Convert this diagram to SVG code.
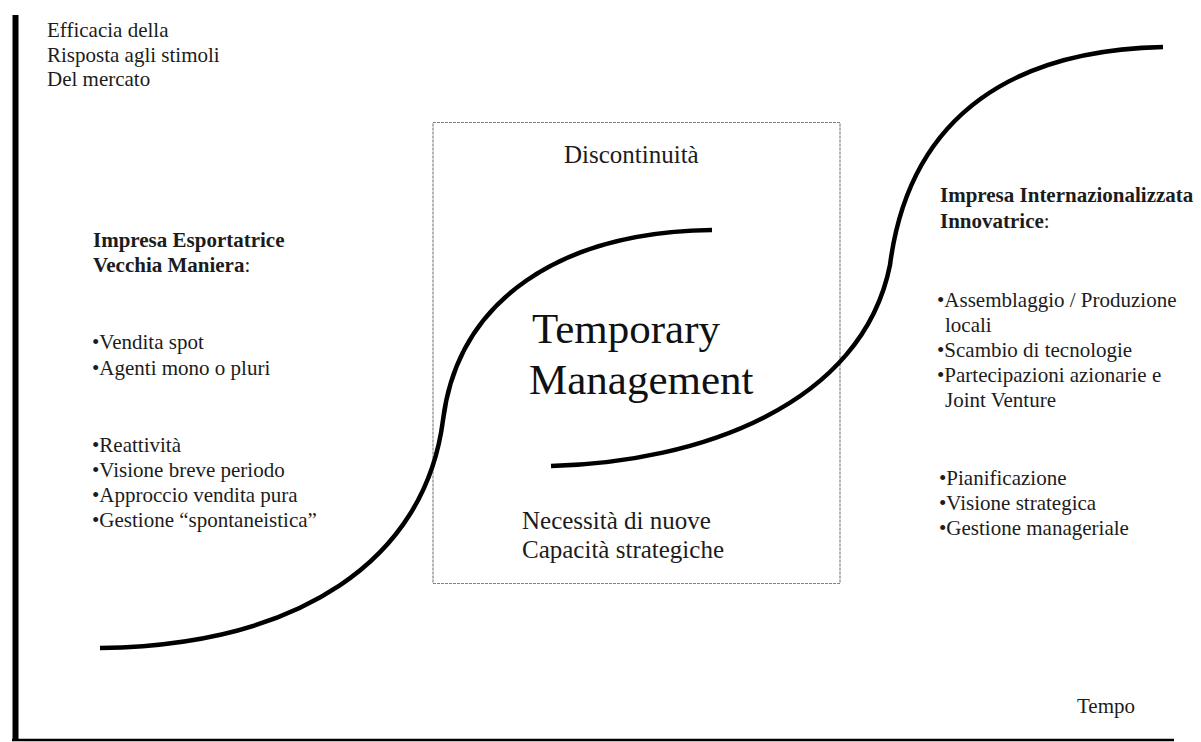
<svg xmlns="http://www.w3.org/2000/svg" width="1201" height="742" viewBox="0 0 1201 742">
  <style>
    text { font-family: "Liberation Serif", "Times New Roman", serif; fill: #1c1c1c; }
    .body { font-size: 21px; }
    .title { font-size: 21px; font-weight: bold; }
    .colon { font-weight: normal; }
    .mid { font-size: 25px; }
    .big { font-size: 43px; fill: #111; }
    .curve { fill: none; stroke: #000; stroke-width: 4.5; stroke-linecap: butt; }
    .frame { fill: none; stroke: #808080; stroke-width: 1.2; stroke-dasharray: 3 1; }
  </style>
  <rect width="1201" height="742" fill="#fff"/>

  <!-- axes -->
  <g id="axes">
    <line x1="15.5" y1="15" x2="15.5" y2="741" stroke="#000" stroke-width="6"/>
    <line x1="12" y1="740" x2="1174" y2="740" stroke="#000" stroke-width="2.5"/>
    <text class="body" x="47" y="37">Efficacia della</text>
    <text class="body" x="47" y="62">Risposta agli stimoli</text>
    <text class="body" x="47" y="86">Del mercato</text>
    <text class="body" x="1077" y="713">Tempo</text>
  </g>

  <!-- transition box -->
  <g id="discontinuity-box">
    <rect class="frame" x="433" y="122.5" width="407" height="461"/>
    <text class="mid" x="564" y="163">Discontinuità</text>
    <text class="big" x="532" y="343">Temporary</text>
    <text class="big" x="529" y="394">Management</text>
    <text class="mid" x="522" y="529">Necessità di nuove</text>
    <text class="mid" x="522" y="558">Capacità strategiche</text>
  </g>

  <!-- left stage -->
  <g id="old-exporter">
    <text class="title" x="93" y="247">Impresa Esportatrice</text>
    <text class="title" x="93" y="272">Vecchia Maniera<tspan class="colon">:</tspan></text>
    <text class="body" x="92" y="349">•Vendita spot</text>
    <text class="body" x="92" y="375">•Agenti mono o pluri</text>
    <text class="body" x="92" y="452">•Reattività</text>
    <text class="body" x="92" y="477">•Visione breve periodo</text>
    <text class="body" x="92" y="502">•Approccio vendita pura</text>
    <text class="body" x="92" y="527">•Gestione “spontaneistica”</text>
  </g>

  <!-- right stage -->
  <g id="international-firm">
    <text class="title" x="940" y="202">Impresa Internazionalizzata</text>
    <text class="title" x="940" y="228">Innovatrice<tspan class="colon">:</tspan></text>
    <text class="body" x="937" y="307">•Assemblaggio / Produzione</text>
    <text class="body" x="945" y="332">locali</text>
    <text class="body" x="937" y="357">•Scambio di tecnologie</text>
    <text class="body" x="937" y="382">•Partecipazioni azionarie e</text>
    <text class="body" x="945" y="407">Joint Venture</text>
    <text class="body" x="939" y="485">•Pianificazione</text>
    <text class="body" x="939" y="510">•Visione strategica</text>
    <text class="body" x="939" y="535">•Gestione manageriale</text>
  </g>

  <!-- growth curves -->
  <g id="curves">
    <path class="curve" d="M100,648 C300,645 425,560 443,420 C458,300 560,232 712,230"/>
    <path class="curve" d="M551,466 C700,462 862,405 890,265 C910,110 1020,50 1163,47"/>
  </g>
</svg>
